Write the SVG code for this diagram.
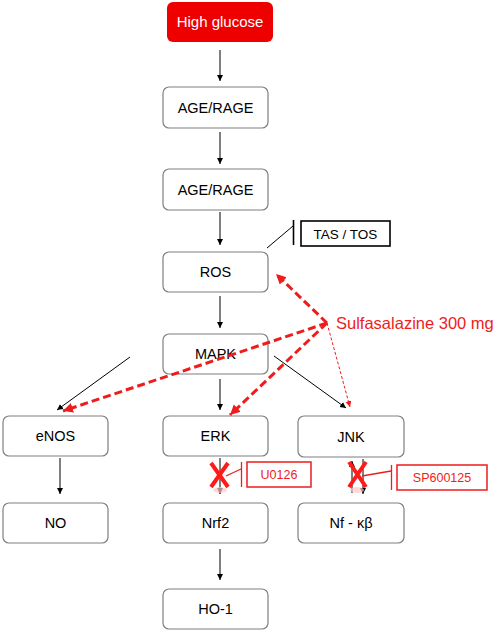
<svg xmlns="http://www.w3.org/2000/svg" width="498" height="632" viewBox="0 0 498 632">
<defs>
<marker id="ab" markerUnits="userSpaceOnUse" markerWidth="8" markerHeight="8" refX="6" refY="3" orient="auto"><path d="M0,0 L6,3 L0,6 Z" fill="#000"/></marker>
<marker id="ar" markerUnits="userSpaceOnUse" markerWidth="14" markerHeight="14" refX="10" refY="5" orient="auto"><path d="M0,0 L10,5 L0,10 Z" fill="#ee1c1c"/></marker>
<marker id="ars" markerUnits="userSpaceOnUse" markerWidth="8" markerHeight="8" refX="6" refY="3" orient="auto"><path d="M0,0 L6,3 L0,6 Z" fill="#ee1c1c"/></marker>
</defs>
<style>
.n rect{fill:#fff;stroke:#7f7f7f;stroke-width:1.2}
.t{font-family:"Liberation Sans",Arial,sans-serif;font-size:14.5px;fill:#000;text-anchor:middle}
.k{stroke:#000;stroke-width:1;fill:none}
.rd{stroke:#ee1c1c;stroke-width:3;stroke-dasharray:8,4;fill:none}
.rt{stroke:#ee1c1c;stroke-width:1.3;fill:none}
.x{stroke:#ff1a1a;stroke-width:4;stroke-linecap:butt;fill:none}
.rb rect{fill:#fff;stroke:#ee1c1c;stroke-width:1.5}
.rl{font-family:"Liberation Sans",Arial,sans-serif;font-size:12.5px;fill:#ee1c1c;text-anchor:middle}
</style>
<rect width="498" height="632" fill="#fff"/>
<g id="high-glucose"><rect x="167" y="2" width="106" height="40" rx="6" fill="#ee0000"/><text x="220" y="27" class="t" style="fill:#fff;font-size:15px">High glucose</text></g>
<g id="age-rage-1" class="n"><rect x="163" y="87" width="105" height="41" rx="6"/><text x="215.5" y="112.5" class="t">AGE/RAGE</text></g>
<g id="age-rage-2" class="n"><rect x="163" y="169" width="105" height="41" rx="6"/><text x="215.5" y="194.5" class="t">AGE/RAGE</text></g>
<g id="tas-tos"><rect x="301" y="221" width="89" height="25" fill="#fff" stroke="#000" stroke-width="1.6"/><text x="345.5" y="238.5" class="t" style="font-size:13.5px">TAS / TOS</text></g>
<g id="ros" class="n"><rect x="163" y="252" width="105" height="40" rx="6"/><text x="215.5" y="277" class="t">ROS</text></g>
<g id="mapk" class="n"><rect x="163" y="334" width="105" height="40" rx="6"/><text x="215.5" y="359" class="t">MAPK</text></g>
<g id="sulfasalazine"><text x="336" y="329" style="font-family:'Liberation Sans',Arial,sans-serif;font-size:16.5px;fill:#ee1c1c">Sulfasalazine 300 mg</text></g>
<g id="enos" class="n"><rect x="3" y="416" width="105" height="40" rx="6"/><text x="55.5" y="441" class="t">eNOS</text></g>
<g id="erk" class="n"><rect x="163" y="416" width="105" height="40" rx="6"/><text x="215.5" y="441" class="t">ERK</text></g>
<g id="jnk" class="n"><rect x="298" y="416" width="106" height="41" rx="6"/><text x="351" y="441.5" class="t">JNK</text></g>
<g id="u0126" class="rb"><rect x="247" y="462" width="64" height="25"/><text x="279" y="479" class="rl">U0126</text></g>
<g id="sp600125" class="rb"><rect x="397" y="465" width="90" height="25"/><text x="442" y="482" class="rl">SP600125</text></g>
<g id="no" class="n"><rect x="3" y="503" width="105" height="40" rx="6"/><text x="55.5" y="528" class="t">NO</text></g>
<g id="nrf2" class="n"><rect x="163" y="503" width="105" height="40" rx="6"/><text x="215.5" y="528" class="t">Nrf2</text></g>
<g id="nfkb" class="n"><rect x="298" y="503" width="106" height="40" rx="6"/><text x="351" y="528" class="t">Nf - κβ</text></g>
<g id="ho1" class="n"><rect x="163" y="589" width="105" height="40" rx="6"/><text x="215.5" y="614" class="t">HO-1</text></g>
<g id="connectors">
<line class="k" x1="220" y1="50" x2="220" y2="81" marker-end="url(#ab)"/>
<line class="k" x1="220" y1="132" x2="220" y2="164" marker-end="url(#ab)"/>
<line class="k" x1="220" y1="212" x2="220" y2="245" marker-end="url(#ab)"/>
<line class="k" x1="220" y1="296" x2="220" y2="328" marker-end="url(#ab)"/>
<line class="k" x1="220" y1="379" x2="220" y2="410" marker-end="url(#ab)"/>
<line class="k" x1="130" y1="357" x2="57" y2="410" marker-end="url(#ab)"/>
<line class="k" x1="274" y1="356" x2="346" y2="408" marker-end="url(#ab)"/>
<line class="k" x1="60" y1="458" x2="60" y2="494" marker-end="url(#ab)"/>
<line class="k" x1="220" y1="458" x2="220" y2="494" marker-end="url(#ab)"/>
<line class="k" x1="352" y1="493" x2="352" y2="461" marker-end="url(#ab)"/>
<line class="k" x1="363" y1="459" x2="363" y2="494" marker-end="url(#ab)"/>
<line class="k" x1="220" y1="549" x2="220" y2="580" marker-end="url(#ab)"/>
<line class="k" x1="267" y1="248" x2="293" y2="226"/>
<line x1="293.5" y1="220" x2="293.5" y2="245" stroke="#000" stroke-width="1.6"/>
<line class="rd" x1="327" y1="323" x2="276" y2="274" marker-end="url(#ar)"/>
<line class="rd" x1="327" y1="323" x2="63" y2="411" marker-end="url(#ar)"/>
<line class="rd" x1="327" y1="323" x2="230" y2="415" marker-end="url(#ar)"/>
<line x1="327" y1="323" x2="350" y2="407" stroke="#ee1c1c" stroke-width="1" stroke-dasharray="3,2" marker-end="url(#ars)"/>
<line class="rt" x1="226" y1="476" x2="241" y2="469"/>
<line class="rt" x1="241.5" y1="462" x2="241.5" y2="487"/>
<line class="rt" x1="362" y1="476" x2="391" y2="471"/>
<line class="rt" x1="391.5" y1="465" x2="391.5" y2="490"/>
<ellipse cx="220" cy="490" rx="7" ry="3" fill="#ffc8c8" opacity="0.7"/>
<ellipse cx="357" cy="490" rx="7" ry="3" fill="#ffc8c8" opacity="0.7"/>
<path class="x" d="M211,463 L228,487 M228,463 L211,487"/>
<path class="x" d="M349,462 L366,487 M366,462 L349,487"/>
</g>
</svg>
